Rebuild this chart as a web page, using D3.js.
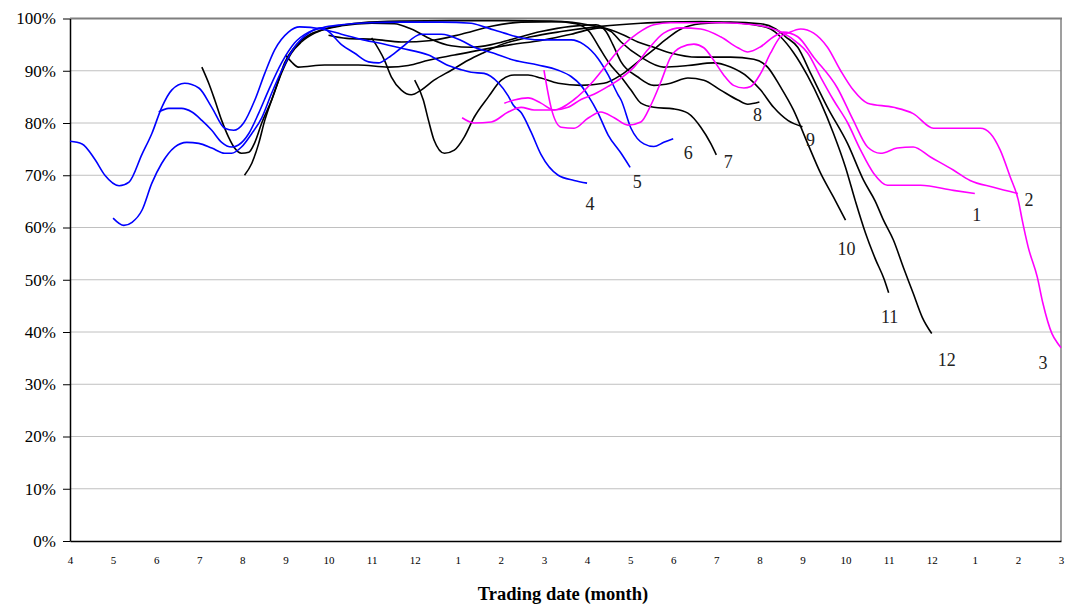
<html>
<head>
<script src="https://d3js.org/d3.v7.min.js"></script>
</head>
<style>
    body { margin: 0; background: #fff; }
    .grid line { stroke: #c0c0c0; stroke-width: 1; }
    .y-axis text { font-family: "Liberation Serif", serif; font-size: 17px; fill: #000; }
    .x-axis text { font-family: "Liberation Serif", serif; font-size: 11px; fill: #000; }
    .y-axis .domain, .x-axis .domain { stroke: #000; stroke-width: 1.5; }
    .y-axis line { stroke: #000; }
    .end-label { font-family: "Liberation Serif", serif; font-size: 18px; fill: #222; }
</style>
<body>
<svg id="chart" width="1067" height="608"></svg>
<script>
// month labels along the x axis (Apr of year 1 .. Mar of year 3)
const monthLabels = [4,5,6,7,8,9,10,11,12,1,2,3,4,5,6,7,8,9,10,11,12,1,2,3];
const pctTicks = [0,10,20,30,40,50,60,70,80,90,100];
const contractNames = ["1","2","3","4","5","6","7","8","9","10","11","12"];

// [month index, percent]
const contract4 = [[0,76.5],[0.28,76],[0.58,73],[0.81,70],[1.14,68],[1.37,68.7],[1.67,74],[1.9,78],[2.13,83],[2.36,86.3],[2.66,87.6],[2.99,86.7],[3.29,83],[3.59,79],[3.8,78.6],[4.03,80],[4.29,84.4],[4.52,89.5],[4.75,94],[5.07,97.4],[5.33,98.4],[5.84,98],[6.3,97],[6.76,96],[7.23,95.2],[7.69,94.3],[8.32,93],[8.78,91],[9.08,90.2],[9.31,89.7],[9.61,89.5],[9.94,87.7],[10.17,85.2],[10.29,83.4],[10.47,82],[10.7,78.3],[10.93,74],[11.33,70],[11.7,69],[12,68.5]];
const contract5 = [[1,61.8],[1.25,60.4],[1.44,61],[1.67,63.3],[1.9,68.5],[2.13,72.3],[2.43,75.4],[2.71,76.3],[2.99,76.1],[3.29,75.2],[3.59,74.2],[3.75,74.2],[3.98,75.4],[4.22,78],[4.45,81],[4.68,85.7],[4.91,90],[5.21,94.5],[5.54,97.2],[5.84,98.2],[6,97.5],[6.3,95],[6.6,93.4],[6.93,91.7],[7.16,91.5],[7.39,92.5],[7.69,94.4],[8.15,97],[8.62,97],[9.08,95.8],[9.38,94.5],[9.78,93.5],[10.31,92],[10.86,91.1],[11.33,90.1],[11.63,88.9],[11.86,87.2],[12.02,85.3],[12.25,82],[12.49,77.7],[12.79,74.2],[13,71.5]];
const contract6 = [[2.06,82.1],[2.29,82.8],[2.59,82.8],[2.83,82.1],[3.06,80.5],[3.29,78.6],[3.52,76.3],[3.75,75.4],[3.91,75.8],[4.15,78],[4.38,81.9],[4.61,86.3],[4.91,91.5],[5.21,95.3],[5.54,97.4],[5.84,98.2],[6.3,98.8],[6.93,99.2],[7.69,99.3],[8.62,99.3],[9.31,99.1],[9.61,98.4],[10.08,97.2],[10.47,96.3],[10.86,95.9],[11.63,95.9],[11.93,95],[12.25,92.4],[12.49,89.2],[12.72,85.4],[12.79,84.4],[13.02,79],[13.32,76],[13.55,75.5],[13.78,76.3],[14,77]];
const contract7 = [[3.06,90.7],[3.22,87.6],[3.36,84.4],[3.52,80.5],[3.68,77.3],[3.82,75.2],[3.98,74.2],[4.15,74.4],[4.29,76.3],[4.45,80],[4.68,84.4],[4.91,89.6],[5.14,93.4],[5.37,95.5],[5.68,97.2],[6,98.2],[6.37,98.8],[6.76,99.2],[7.69,99.5],[8.85,99.6],[10.01,99.6],[11.17,99.5],[11.74,99],[12.05,97.5],[12.28,94.5],[12.51,91.5],[12.79,88.8],[13.02,86.3],[13.25,83.8],[13.55,83],[14.01,82.7],[14.34,81.9],[14.64,79.2],[14.87,76.1],[15,73.9]];
const contract8 = [[4.05,70],[4.22,72.3],[4.38,76.1],[4.52,80.5],[4.68,84.4],[4.84,88.2],[4.98,91.5],[5.21,94.5],[5.54,96.8],[5.84,97.8],[6.3,98.6],[7,99.1],[7.53,99],[7.92,98],[8.39,96],[8.85,94.8],[9.31,94.5],[9.78,95],[10.24,96],[10.93,97.5],[11.63,98.5],[12.21,98.8],[12.44,97.5],[12.6,95],[12.79,91.7],[13.18,88.8],[13.55,87.2],[13.94,87.6],[14.34,88.6],[14.71,88.2],[15.1,86.3],[15.5,84.4],[15.73,83.6],[16,84]];
const contract9 = [[5,93],[5.14,91.7],[5.3,90.7],[5.91,91.1],[6.69,91.1],[7.39,90.7],[7.85,91],[8.32,92],[8.92,93],[9.54,94],[10.24,95],[10.93,95.8],[11.63,97],[12.32,98.2],[12.56,97.5],[12.79,95.5],[13.25,92.6],[13.78,90.7],[14.34,91],[14.94,91.5],[15.33,90.7],[15.73,88.8],[16.03,86.3],[16.33,83],[16.66,80.5],[17,79.3]];
const contract10 = [[6,96.8],[6.42,96.2],[7.07,96],[7.69,95.5],[8.39,95.8],[9.08,97],[9.78,98.5],[10.47,99.3],[11.4,99.4],[12.02,98.8],[12.56,97.8],[12.86,96.8],[13.18,95.5],[13.55,94.5],[13.94,93.4],[14.57,92.6],[15.33,92.6],[15.87,92.2],[16.19,90.7],[16.49,86.9],[16.79,82.5],[17.12,76.1],[17.42,70.4],[17.72,65.8],[18,61.4]];
const contract11 = [[7,96.3],[7.3,92],[7.46,88.8],[7.69,86.3],[7.92,85.4],[8.15,86.3],[8.45,88.2],[8.85,90.1],[9.24,92],[9.61,93.5],[10.01,95],[10.7,96.5],[11.4,97.5],[12.32,98.5],[13.25,99.1],[13.78,99.3],[14.64,99.4],[15.1,99.3],[15.87,98.8],[16.26,98],[16.49,96.5],[16.79,93.5],[17.12,89],[17.42,84],[17.72,78],[18,71.5],[18.23,65],[18.46,59],[18.69,54],[18.9,50],[19,47.5]];
const contract12 = [[8,88.2],[8.2,84.4],[8.32,80.5],[8.45,76.7],[8.69,74.2],[8.92,74.8],[9.15,77.3],[9.38,81.1],[9.71,85],[10.01,88.2],[10.31,89.2],[10.63,89.2],[10.93,88.6],[11.33,87.6],[11.86,87.2],[12.39,87.6],[12.79,89.2],[13.18,91.7],[13.48,93.6],[13.83,96],[14.18,98],[14.64,99],[15.33,99.3],[16.03,99],[16.38,98],[16.61,96.5],[16.89,94.5],[17.19,89.5],[17.58,83],[18.05,76],[18.42,69],[18.69,65],[18.88,61.4],[19.11,57.6],[19.34,52.4],[19.57,47.4],[19.78,42.8],[20,39.7]];
const contract1 = [[9.1,81],[9.38,80],[9.78,80.2],[10.17,82.1],[10.47,83],[10.77,82.5],[11.23,82.5],[11.7,84.5],[12.09,87.5],[12.44,91],[12.79,94.5],[13.18,97.2],[13.55,98.8],[13.94,99.2],[15.1,99.2],[15.87,98.8],[16.26,98.2],[16.56,97.2],[16.89,95.3],[17.12,93.4],[17.42,88.8],[17.72,84.4],[18.05,80],[18.35,74.8],[18.65,70.4],[18.97,68.1],[19.74,68.1],[20.5,67.1],[21,66.5]];
const contract2 = [[10.08,83.8],[10.31,84.4],[10.63,84.8],[10.93,83.8],[11.23,82.5],[11.56,83],[11.86,84.5],[12.16,85.5],[12.49,87],[12.79,88.6],[13.09,90.7],[13.41,94],[13.78,97.2],[14.18,98.2],[14.64,98],[15.1,96.5],[15.5,94.4],[15.73,93.6],[16.03,94.6],[16.33,96.5],[16.56,97.4],[16.89,96.5],[17.26,92.6],[17.81,86.7],[18.18,80.5],[18.51,75.4],[18.81,74.2],[19.2,75.2],[19.57,75.4],[19.97,73.5],[20.5,71],[20.89,69],[21.43,67.7],[22,66.5]];
const contract3 = [[11,90.1],[11.17,82.8],[11.4,79.2],[11.7,79],[12.02,80.9],[12.32,82.1],[12.63,81],[12.95,79.6],[13.25,80.2],[13.48,83.4],[13.71,87.8],[13.94,92.6],[14.18,94.5],[14.48,95.1],[14.71,94.4],[14.94,92],[15.17,89.2],[15.4,87.2],[15.64,86.7],[15.8,87],[16.03,89.5],[16.26,93.4],[16.49,96.5],[16.66,97.2],[16.96,98],[17.26,97.2],[17.58,94.5],[17.88,90.1],[18.18,86.3],[18.51,83.8],[19.11,83],[19.57,81.8],[20.04,79],[21.13,79],[21.36,78],[21.59,74.8],[21.82,69.7],[22.01,65.2],[22.1,61.4],[22.24,56.2],[22.45,50.5],[22.58,45.5],[22.79,39.7],[22.91,38],[23,37]];

const contractData = [contract1, contract2, contract3, contract4, contract5, contract6,
                      contract7, contract8, contract9, contract10, contract11, contract12];

let svg = d3.select('svg#chart');

let x = d3.scaleLinear().domain([0, 23]).range([70, 1061]);
let y = d3.scaleLinear().domain([0, 100]).range([541, 18.5]);

// colours by contract month
function lineColor(name) {
    if (["1","2","3"].includes(name)) return "#ff00ff";
    if (["4","5","6"].includes(name)) return "#0000ff";
    return "#000000";
}

// where the number sits relative to the last point
const labelOffset = {
    "1": [2, 27], "2": [11, 12], "3": [-18, 21], "4": [3, 27],
    "5": [7, 21], "6": [15, 20], "7": [12, 13], "8": [-2, 19],
    "9": [8, 19], "10": [1, 35], "11": [1, 30], "12": [15, 32]
};

// horizontal gridlines
svg.append('g')
    .attr('class', 'grid')
    .selectAll('line')
    .data(pctTicks.filter(d => d > 0 && d < 100))
    .join('line')
    .attr('x1', x(0)).attr('x2', x(23))
    .attr('y1', d => y(d)).attr('y2', d => y(d));

// plot frame (top and right in grey)
svg.append('line')
    .attr('x1', x(0)).attr('x2', x(23) + 1)
    .attr('y1', y(100)).attr('y2', y(100))
    .attr('stroke', '#7f7f7f').attr('stroke-width', 2);
svg.append('line')
    .attr('x1', x(23)).attr('x2', x(23))
    .attr('y1', y(100)).attr('y2', y(0))
    .attr('stroke', '#7f7f7f').attr('stroke-width', 1.5);

let yAxis = d3.axisLeft(y)
    .tickValues(pctTicks)
    .tickFormat(d => d + '%')
    .tickSize(7)
    .tickSizeOuter(0)
    .tickPadding(7);

svg.append('g')
    .attr('class', 'y-axis')
    .attr('transform', `translate(${x(0)},0)`)
    .call(yAxis);

let xAxis = d3.axisBottom(x)
    .tickValues(d3.range(monthLabels.length))
    .tickFormat(i => monthLabels[i])
    .tickSize(0)
    .tickSizeOuter(0)
    .tickPadding(15);

svg.append('g')
    .attr('class', 'x-axis')
    .attr('transform', `translate(0,${y(0)})`)
    .call(xAxis);

let line = d3.line()
    .x(d => x(d[0]))
    .y(d => y(d[1]))
    .curve(d3.curveMonotoneX);

let series = contractNames.map((name, i) => ({ name: name, values: contractData[i] }));

// black first, then blue, then magenta on top
let drawOrder = series.slice(6).concat(series.slice(3, 6)).concat(series.slice(0, 3));

svg.append('g')
    .selectAll('path')
    .data(drawOrder)
    .join('path')
    .attr('d', d => line(d.values))
    .attr('fill', 'none')
    .attr('stroke', d => lineColor(d.name))
    .attr('stroke-width', 1.6)
    .attr('stroke-linejoin', 'round');

svg.append('g')
    .selectAll('text')
    .data(series)
    .join('text')
    .attr('class', 'end-label')
    .attr('text-anchor', 'middle')
    .attr('x', d => x(d.values[d.values.length - 1][0]) + labelOffset[d.name][0])
    .attr('y', d => y(d.values[d.values.length - 1][1]) + labelOffset[d.name][1])
    .text(d => d.name);

svg.append('text')
    .attr('x', 563)
    .attr('y', 600)
    .attr('text-anchor', 'middle')
    .style('font-family', '"Liberation Serif", serif')
    .style('font-weight', 'bold')
    .style('font-size', '18.5px')
    .text('Trading date (month)');
</script>
</body>
</html>
